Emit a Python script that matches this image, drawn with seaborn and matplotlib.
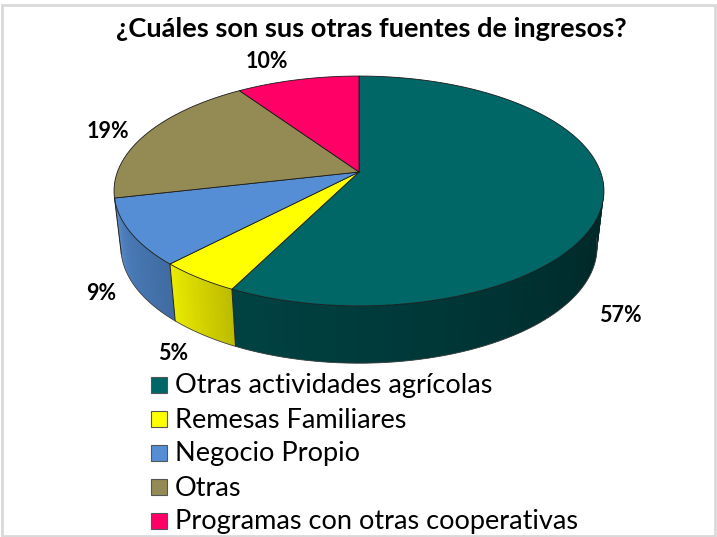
import numpy as np
import seaborn as sns
import matplotlib.pyplot as plt
from matplotlib.patches import Polygon, Rectangle

title = "¿Cuáles son sus otras fuentes de ingresos?"
categories = ["Otras actividades agrícolas", "Remesas Familiares", "Negocio Propio", "Otras",
              "Programas con otras cooperativas"]
values = [57.4, 4.7, 9.3, 19.1, 9.5]
colors = ["#006666", "#FFFF00", "#558ED5", "#948A54", "#FF0066"]
side_shades = [(0.65, 0.36), (0.92, 0.74), (0.92, 0.76), (0.9, 0.8), (0.9, 0.8)]
label_pos = [(620, 315), (173, 354), (101, 294), (108, 131), (267, 61)]

sns.set_theme(style="white")
plt.rcParams['font.family'] = ['Lato', 'DejaVu Sans']

fig = plt.figure(figsize=(7.17, 5.37), dpi=100)
ax = fig.add_axes([0, 0, 1, 1])
ax.set_xlim(0, 717)
ax.set_ylim(537, 0)
ax.axis("off")

# perspective of the tilted disc, in pixels of the figure
cx, cy = 359, 172
scale_x, scale_y, tilt = 241.6, 83.4, -0.165


def top_edge(t):
    X, Y = np.sin(t), -np.cos(t)
    d = 1 + tilt * Y
    return cx + scale_x * X / d, (scale_y * Y + cy) / d


def bottom_edge(t):
    x, y = top_edge(t)
    return cx + (x - cx) * 0.972, cy + 56 + (y - cy) * 1.01


ax.add_patch(Rectangle((1.5, 5), 713.5, 531, fill=False, ec="#D9D9D9", lw=2))

fractions = np.cumsum([0] + values) / sum(values)
first_vis, last_vis = np.radians(95), np.radians(258)

# side wall, strip by strip so the shade can run along it
for i, color in enumerate(colors):
    t0 = max(fractions[i] * 2 * np.pi, first_vis)
    t1 = min(fractions[i + 1] * 2 * np.pi, last_vis)
    if t1 <= t0:
        continue
    ts = np.linspace(t0, t1, 61)
    # shade goes left to right on screen, t runs right to left
    c = sns.desaturate(color, 1)
    dark = [v * side_shades[i][1] for v in c]
    light = [v * side_shades[i][0] for v in c]
    strip_colors = sns.blend_palette([dark, light], len(ts) - 1)
    for k in range(len(ts) - 1):
        # each strip runs one step into the next, the next one paints over it
        xa, ya = top_edge(ts[k:k + 3])
        xb, yb = bottom_edge(ts[k:k + 3])
        ax.add_patch(Polygon(np.c_[np.r_[xa, xb[::-1]], np.r_[ya, yb[::-1]]], fc=strip_colors[k], ec="none"))
    xa, ya = top_edge(np.array([t0]))
    xb, yb = bottom_edge(np.array([t0]))
    if i > 0:
        ax.plot([xa[0], xb[0]], [ya[0], yb[0]], color="#222222", lw=0.7)
    bx, by = bottom_edge(ts)
    ax.plot(bx, by, color="#444444", lw=0.6)

# top faces
for i, color in enumerate(colors):
    ts = np.linspace(fractions[i], fractions[i + 1], 120) * 2 * np.pi
    x, y = top_edge(ts)
    ax.add_patch(Polygon(np.c_[np.r_[cx, x], np.r_[cy, y]], fc=color, ec="#1a1a1a", lw=0.6, joinstyle="round"))

ax.text(371, 29, title, ha="center", va="center", fontsize=19.6, fontweight="bold", color="black")

for v, (x, y) in zip(values, label_pos):
    ax.text(x, y, f"{v:.0f}%", ha="center", va="center", fontsize=15.5, fontweight="bold", color="black")

# legend
for i, (name, color) in enumerate(zip(categories, colors)):
    y = 385 + i * 34
    ax.add_patch(Rectangle((151, y - 8), 16, 16, fc=color, ec="#555555", lw=0.8))
    ax.text(175, y + 1, name, ha="left", va="center", fontsize=19.5, color="black")

plt.savefig("out.png", dpi=100)
